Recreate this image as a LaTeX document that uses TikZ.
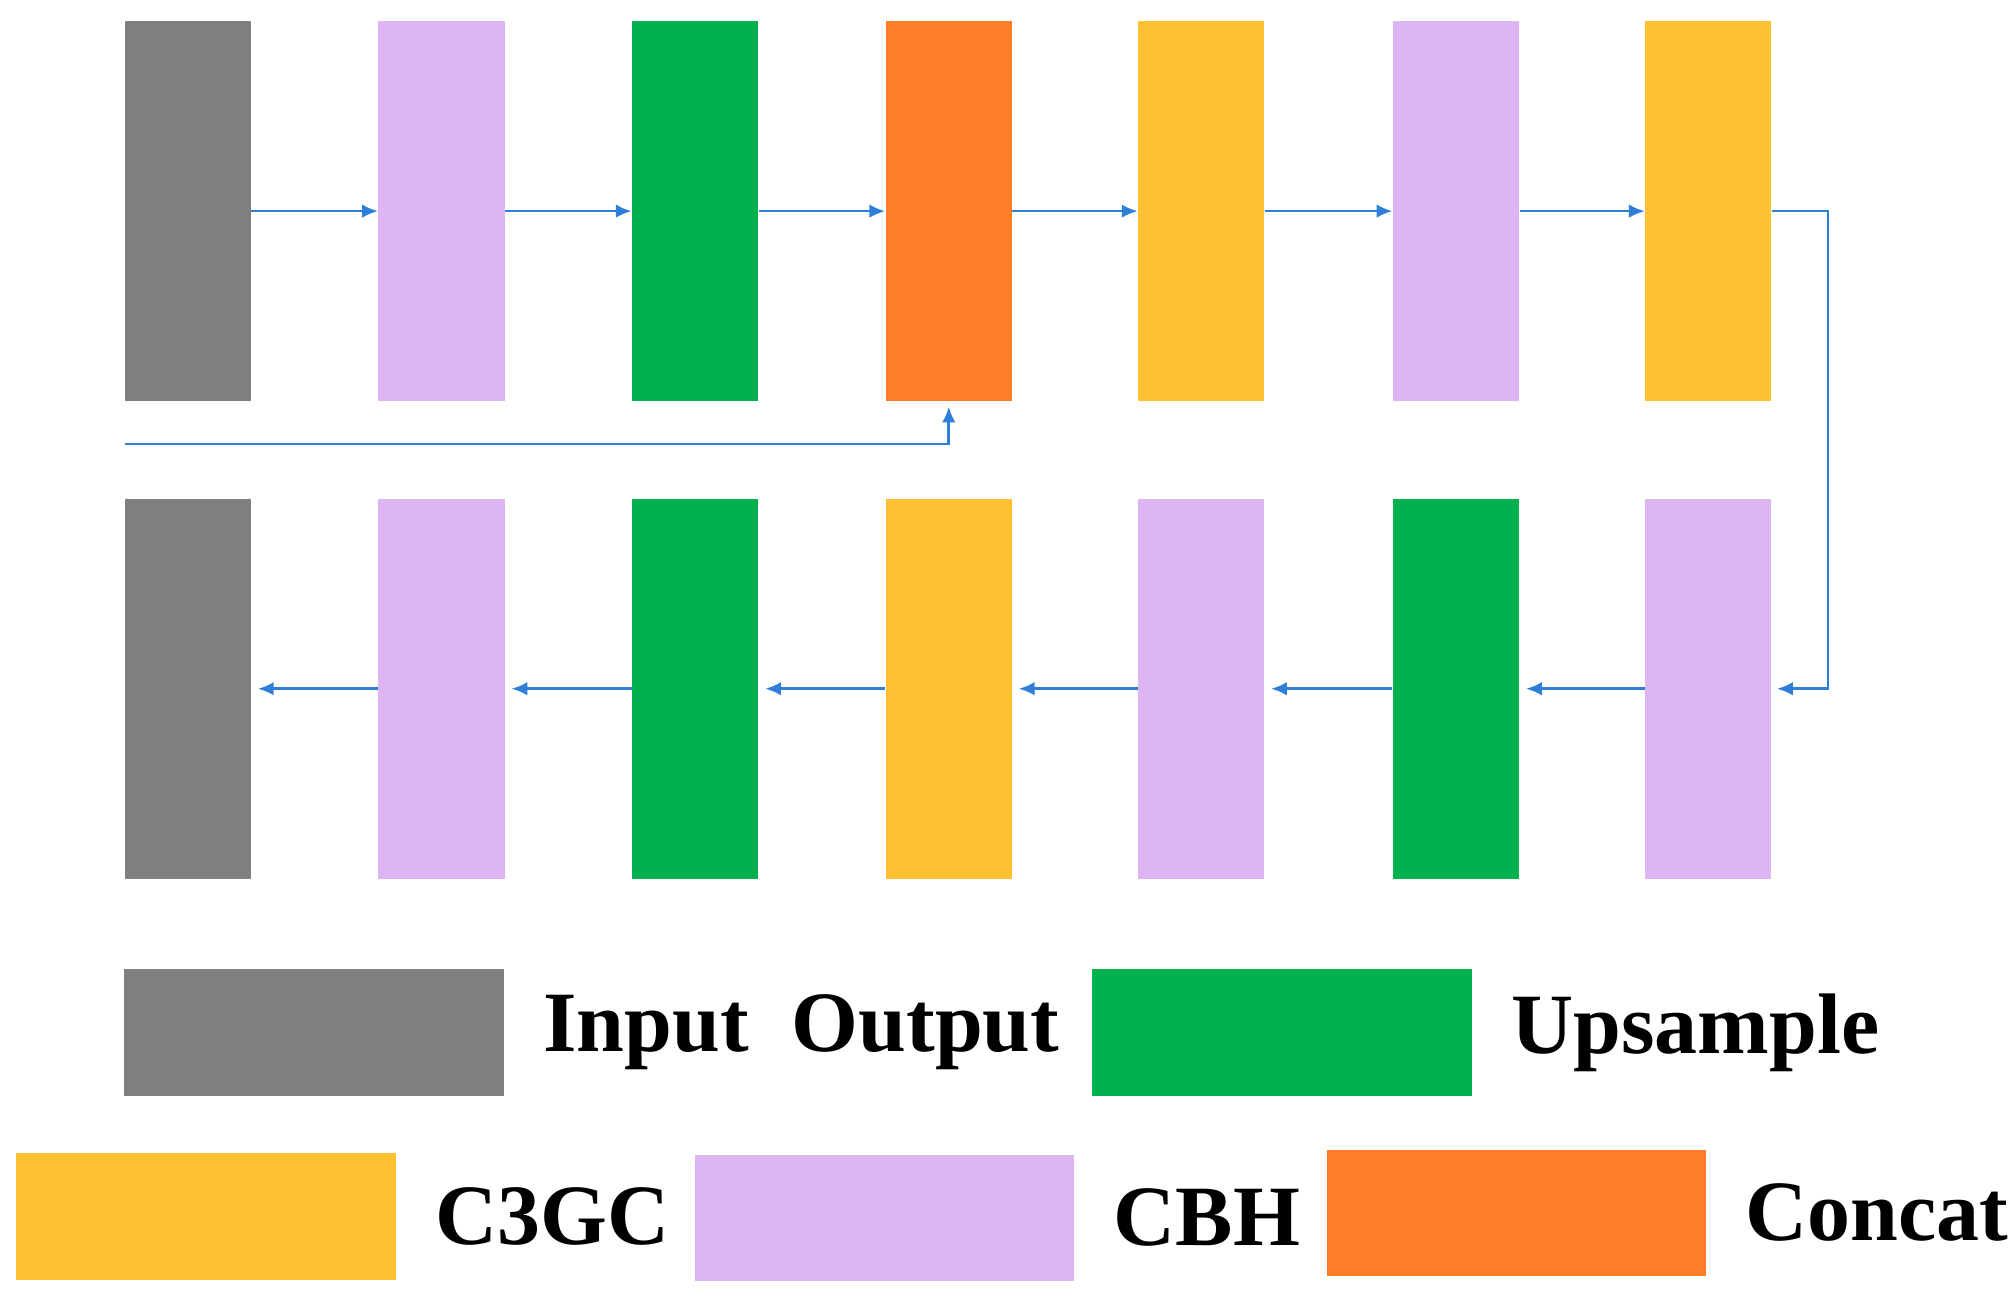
\documentclass[tikz,border=0pt]{standalone}
\usepackage{fontspec}
\setmainfont{Liberation Serif}
\usetikzlibrary{arrows.meta,positioning}
\definecolor{ioGray}{HTML}{7F7F7F}
\definecolor{cbhLilac}{HTML}{DCB5F2}
\definecolor{upGreen}{HTML}{00B04C}
\definecolor{catOrange}{HTML}{FF7D27}
\definecolor{cgcYellow}{HTML}{FFC033}
\definecolor{flowBlue}{HTML}{2F7FD8}
\tikzset{
  blk/.style={draw=none, inner sep=0pt, minimum width=1.96cm, minimum height=5.9cm},
  leg/.style={draw=none, inner sep=0pt, minimum width=5.9cm, minimum height=1.96cm},
  lab/.style={font=\fontsize{38}{40}\selectfont\bfseries, anchor=west, inner sep=0pt},
  flow/.style={draw=flowBlue, line width=1.2pt, -{Latex[length=7pt,width=6pt]}}
}
\begin{document}
\begin{tikzpicture}[x=0.02cm, y=-0.02cm]
		\useasboundingbox (0,0) rectangle (1566,1010);
		% top row
		\foreach \i/\x/\c in {1/146/ioGray, 2/343/cbhLilac, 3/540/upGreen, 4/737/catOrange, 5/933/cgcYellow, 6/1131/cbhLilac, 7/1327/cgcYellow}
			\node[blk, fill=\c] (t\i) at (\x,164) {};
		% bottom row
		\foreach \i/\x/\c in {1/146/ioGray, 2/343/cbhLilac, 3/540/upGreen, 4/737/cgcYellow, 5/933/cbhLilac, 6/1131/upGreen, 7/1327/cbhLilac}
			\node[blk, fill=\c] (b\i) at (\x,535) {};
		\foreach \i [count=\j from 2] in {1,...,6} {
			\draw[flow] (t\i.east) -- (t\j.west);
			\draw[flow] (b\j.west) -- ([xshift=0.1cm]b\i.east);
		}
		\coordinate (skip) at (97,345);
		\coordinate (turn) at (1420,164);
		\draw[flow] (skip) -| ([yshift=-0.08cm]t4.south);
		\draw[flow] (t7.east) -- (turn) |- ([xshift=0.08cm]b7.east);
		% legend
		\node[leg, fill=ioGray] (lio) at (244,802) {};
		\node[lab, right=0.6cm of lio] (tio) {Input\ \ Output};
		\node[leg, fill=upGreen] (lup) at (996,802) {};
		\node[lab, right=0.6cm of lup] (tup) {Upsample};
		\node[leg, fill=cgcYellow] (lcg) at (160,945) {};
		\node[lab, right=0.6cm of lcg] (tcg) {C3GC};
		\node[leg, fill=cbhLilac] (lcb) at (687,946) {};
		\node[lab, right=0.6cm of lcb] (tcb) {CBH};
		\node[leg, fill=catOrange] (lca) at (1178,942) {};
		\node[lab, right=0.6cm of lca] (tca) {Concat};
	\end{tikzpicture}
\end{document}
